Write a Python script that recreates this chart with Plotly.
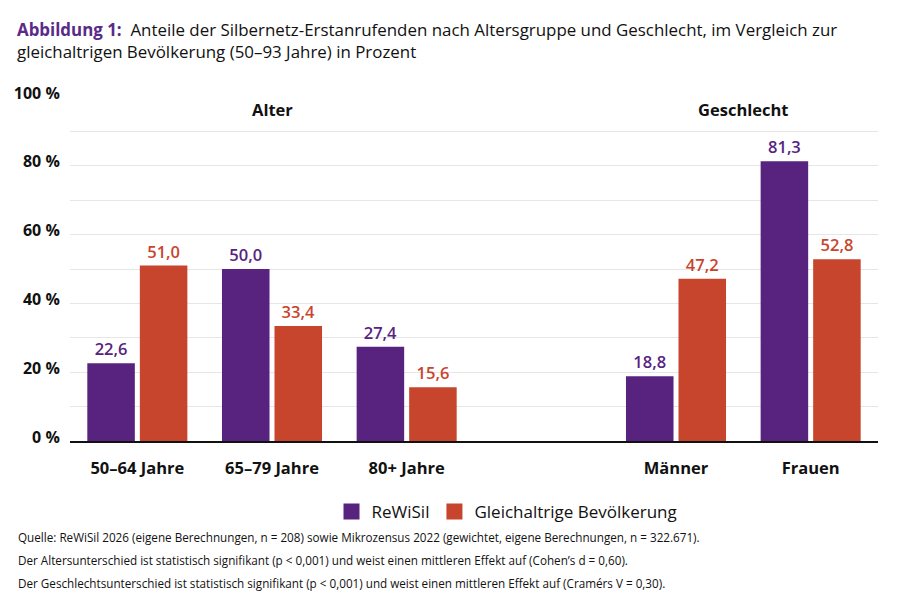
import plotly.graph_objects as go

categories = ["50–64 Jahre", "65–79 Jahre", "80+ Jahre", "Männer", "Frauen"]
cat_pos = [0, 1, 2, 4, 5]
rewisil = [22.6, 50.0, 27.4, 18.8, 81.3]
bevoelkerung = [51.0, 33.4, 15.6, 47.2, 52.8]
series_names = ["ReWiSil", "Gleichaltrige Bevölkerung"]
y_ticks = [0, 20, 40, 60, 80, 100]
y_ticktext = [f"{v} %" for v in y_ticks]
group_labels = ["Alter", "Geschlecht"]
group_pos = [1, 4.5]
footnotes = [
    "Quelle: ReWiSil 2026 (eigene Berechnungen, n = 208) sowie Mikrozensus 2022 (gewichtet, eigene Berechnungen, n = 322.671).",
    "Der Altersunterschied ist statistisch signifikant (p < 0,001) und weist einen mittleren Effekt auf (Cohen’s d = 0,60).",
    "Der Geschlechtsunterschied ist statistisch signifikant (p < 0,001) und weist einen mittleren Effekt auf (Cramérs V = 0,30).",
]

PURPLE = "#57237f"
RED = "#c8452d"
FONT = "Open Sans"

# page body has an 8px margin: compensate so the plot lands where it should
OFF = 8
W, H = 900, 600
pw, ph = 808, 344
L, T = 70 - OFF, 97 - OFF
R, B = W - L - pw, H - T - ph


def px(x):
    return (x - OFF - L) / pw


def py(y):
    return (H - B - (y - OFF)) / ph


fig = go.Figure()
for vals, name, col in [(rewisil, series_names[0], PURPLE), (bevoelkerung, series_names[1], RED)]:
    fig.add_trace(go.Bar(
        x=cat_pos, y=vals, name=name, marker_color=col, marker_line_width=0,
        texttemplate="%{y:.1f}", textposition="outside", cliponaxis=False,
        textfont=dict(color=col, size=16.5, family=FONT, weight=600),
        showlegend=False, hoverinfo="skip",
    ))
    fig.add_trace(go.Scatter(
        x=[None], y=[None], mode="markers", name=name,
        marker=dict(symbol="square", size=18, color=col),
    ))

for lab, xp in zip(group_labels, group_pos):
    fig.add_annotation(x=xp, y=96.3, xref="x", yref="y", text=f"<b>{lab}</b>",
                       showarrow=False, font=dict(size=16.5, color="#111", family=FONT))

for i, t in enumerate(footnotes):
    fig.add_annotation(x=px(16), y=py(537 + 23 * i), xref="paper", yref="paper",
                       xanchor="left", yanchor="middle", text=t, showarrow=False,
                       font=dict(size=11.7, color="#111", family=FONT))

fig.add_annotation(
    x=px(15), y=py(16), xref="paper", yref="paper", xanchor="left", yanchor="top",
    align="left", showarrow=False,
    text=("<b><span style='color:#5a2a88'>Abbildung 1:</span></b>  Anteile der Silbernetz-Erstanrufenden nach "
          "Altersgruppe und Geschlecht, im Vergleich zur<br>gleichaltrigen Bevölkerung (50–93 Jahre) in Prozent"),
    font=dict(size=16.9, color="#111", family=FONT),
)

fig.update_layout(
    width=W, height=H, margin=dict(l=L, r=R, t=T, b=B, autoexpand=False),
    paper_bgcolor="white", plot_bgcolor="white",
    separators=",.",
    barmode="group", bargap=0.22, bargroupgap=0.095,
    font=dict(family=FONT, color="#111"),
    legend=dict(orientation="h", x=px(507), y=py(512), xanchor="center", yanchor="middle",
                font=dict(size=17, color="#111", family=FONT),
                itemwidth=30, tracegroupgap=0),
    xaxis=dict(range=[-0.5, 5.5], tickvals=cat_pos, ticktext=[f"<b>{c}</b>" for c in categories],
               tickfont=dict(size=16.5, color="#111", family=FONT), showgrid=False,
               ticks="outside", ticklen=11, tickcolor="rgba(0,0,0,0)", zeroline=False,
               showline=True, linecolor="#111", linewidth=2, automargin=False),
    yaxis=dict(range=[0, 100], tickvals=y_ticks, ticktext=[f"<b>{t}</b>" for t in y_ticktext],
               tickfont=dict(size=16, color="#111", family=FONT), showgrid=True,
               gridcolor="#e6e6e6", gridwidth=1, zeroline=False, automargin=False,
               ticks="outside", ticklen=6, tickcolor="rgba(0,0,0,0)", ticklabelshift=-4,
               minor=dict(dtick=10, showgrid=True, gridcolor="#e6e6e6", gridwidth=1)),
)

fig.write_html("out.html")
